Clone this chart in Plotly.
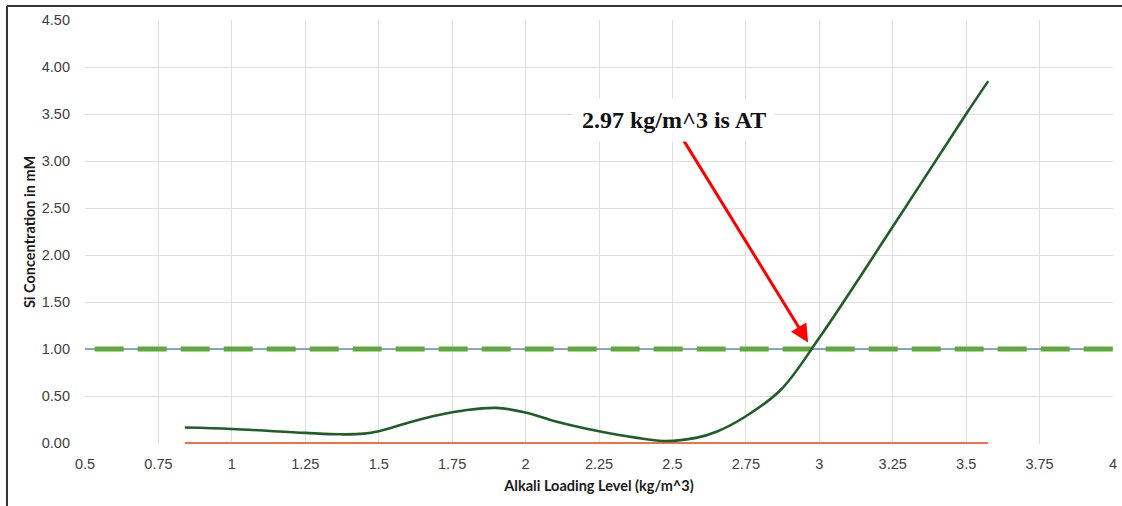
import plotly.graph_objects as go

# ---- data ----
si_x = [0.84, 1.00, 1.25, 1.37, 1.45, 1.50, 1.60, 1.70, 1.80, 1.90, 2.00, 2.10, 2.25, 2.38,
        2.48, 2.58, 2.65, 2.75, 2.87, 3.00, 3.25, 3.50, 3.575]
si_y = [0.165, 0.150, 0.108, 0.093, 0.100, 0.126, 0.215, 0.295, 0.352, 0.374, 0.325, 0.232,
        0.125, 0.055, 0.022, 0.055, 0.120, 0.285, 0.570, 1.120, 2.300, 3.500, 3.850]

zero_x = [0.84, 3.575]
zero_y = [0.0, 0.0]

limit_x = [0.5, 4.0]
limit_y = [1.0, 1.0]

dash_x = [0.533, 4.0]
dash_y = [1.0, 1.0]

x_ticks = [0.5, 0.75, 1, 1.25, 1.5, 1.75, 2, 2.25, 2.5, 2.75, 3, 3.25, 3.5, 3.75, 4]
x_tick_labels = ["0.5", "0.75", "1", "1.25", "1.5", "1.75", "2", "2.25", "2.5", "2.75",
                 "3", "3.25", "3.5", "3.75", "4"]
y_ticks = [0, 0.5, 1, 1.5, 2, 2.5, 3, 3.5, 4, 4.5]
y_tick_labels = ["0.00", "0.50", "1.00", "1.50", "2.00", "2.50", "3.00", "3.50", "4.00", "4.50"]

annot_text = "2.97 kg/m^3 is AT"
arrow_tip = (2.962, 1.07)
arrow_tail = (2.536, 3.23)
label_pos = (2.505, 3.44)

fig = go.Figure()

fig.add_trace(go.Scatter(x=limit_x, y=limit_y, mode="lines",
                         line=dict(color="#6a8bb5", width=1.5), hoverinfo="skip"))
fig.add_trace(go.Scatter(x=dash_x, y=dash_y, mode="lines",
                         line=dict(color="#5fa83c", width=5, dash="29px,14px"), hoverinfo="skip"))
fig.add_trace(go.Scatter(x=zero_x, y=zero_y, mode="lines",
                         line=dict(color="#ee7248", width=2), hoverinfo="skip"))
fig.add_trace(go.Scatter(x=si_x, y=si_y, mode="lines",
                         line=dict(color="#1f5d29", width=2.6, shape="spline", smoothing=1.0),
                         hoverinfo="skip"))

axis_font = dict(family="Liberation Sans, Arial, sans-serif", size=14.5, color="#404040")
title_font = dict(family="Lato, sans-serif", size=14.5, color="#1a1a1a")

fig.update_layout(
    width=1122, height=506,
    margin=dict(l=85, r=9, t=20, b=62),
    paper_bgcolor="white", plot_bgcolor="white",
    showlegend=False,
    xaxis=dict(range=[0.5, 4.0], tickmode="array", tickvals=x_ticks, ticktext=x_tick_labels,
               showgrid=True, gridcolor="#dedede", gridwidth=1, zeroline=False,
               showline=False, tickfont=axis_font, ticklabelstandoff=9, automargin=False,
               title=dict(text="<b>Alkali Loading Level (kg/m^3)</b>", font=title_font, standoff=10)),
    yaxis=dict(range=[-0.01, 4.5], tickmode="array", tickvals=y_ticks, ticktext=y_tick_labels,
               showgrid=True, gridcolor="#dedede", gridwidth=1, zeroline=False,
               showline=False, tickfont=axis_font, ticklabelstandoff=14, automargin=False,
               title=dict(text="<b>Si Concentration in mM</b>", font=title_font, standoff=2)),
    shapes=[
        dict(type="line", xref="paper", yref="paper", x0=-0.0759, x1=1.02, y0=1.033, y1=1.033,
             line=dict(color="#333333", width=2)),
        dict(type="line", xref="paper", yref="paper", x0=-0.0759, x1=-0.0759, y0=1.033, y1=-0.2,
             line=dict(color="#333333", width=2)),
    ],
    annotations=[
        dict(x=arrow_tip[0], y=arrow_tip[1], ax=arrow_tail[0], ay=arrow_tail[1],
             xref="x", yref="y", axref="x", ayref="y", text="", showarrow=True,
             arrowhead=2, arrowsize=1.2, arrowwidth=3, arrowcolor="#ff0000", standoff=0),
        dict(x=label_pos[0], y=label_pos[1], xref="x", yref="y", showarrow=False,
             text="<b>" + annot_text + "</b>", bgcolor="white", borderpad=8,
             font=dict(family="Liberation Serif, DejaVu Serif, serif", size=24, color="#111111")),
    ],
)

fig.write_html("out.html", config={"displayModeBar": False},
               post_script="document.body.style.margin='0';document.body.style.overflow='hidden';")
